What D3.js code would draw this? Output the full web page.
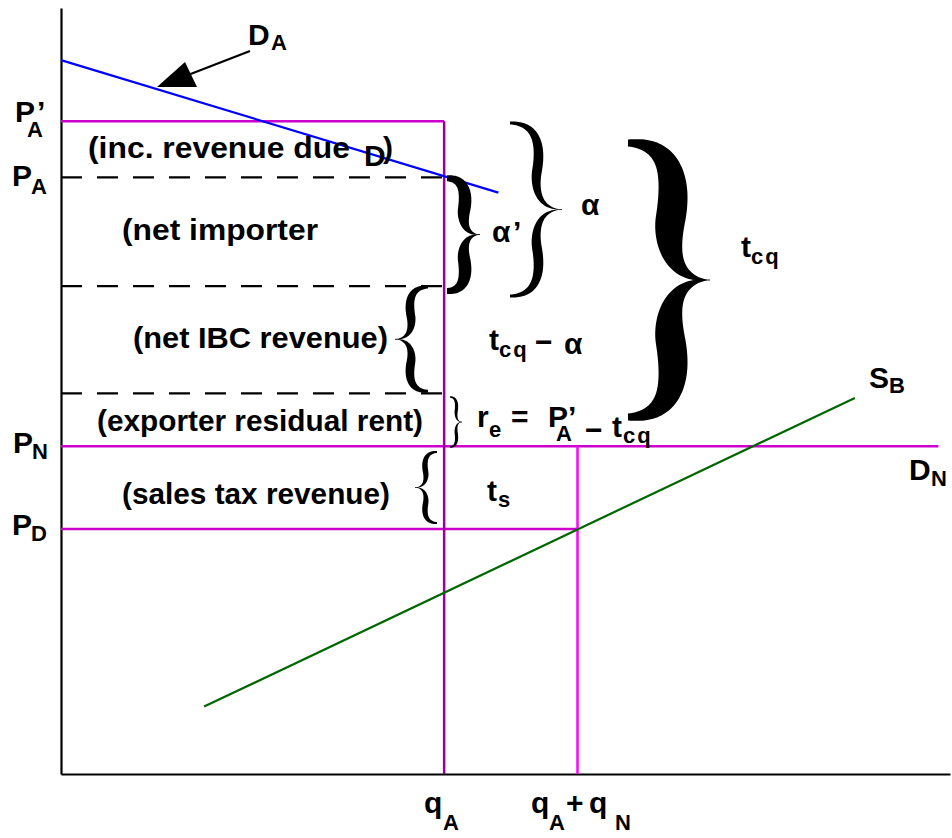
<!DOCTYPE html>
<html>
<head>
<meta charset="utf-8">
<script src="https://cdn.jsdelivr.net/npm/d3@7"></script>
<style>
  html, body { margin: 0; padding: 0; background: #fff; }
  svg text { font-family: "Liberation Sans", Arial, sans-serif; font-weight: bold; fill: #000; }
</style>
</head>
<body>
<svg id="chart" width="952" height="838"></svg>
<script>
// ---------------- data (abstract price / quantity units) ----------------
const priceLevelNames = ["PA'", "PA", "netImporterBottom", "ibcBottom", "PN", "PD"];
const priceLevels     = [85.2, 77.9, 63.7, 49.7, 42.8, 32.0];
const quantityNames   = ["qA", "qA+qN"];
const quantityLevels  = [43.1, 58.1];
const dashedEnds      = [43.1, 43.5, 43.8];       // right ends of the three dashed price lines
const demandA_q       = [0, 49.2];
const demandA_p       = [93.2, 75.9];
const supplyB_q       = [16.1, 89.3];
const supplyB_p       = [8.8, 49.1];
const demandN_end     = 98.7;
const axisMax         = 100;

// ---------------- scales ----------------
const svg = d3.select("#chart");
const x = d3.scaleLinear().domain([0, axisMax]).range([61, 950]);
const y = d3.scaleLinear().domain([0, axisMax]).range([774, 8]);

const P = name => priceLevels[priceLevelNames.indexOf(name)];
const Q = name => quantityLevels[quantityNames.indexOf(name)];

// axes (domain lines only)
svg.append("g").attr("transform", `translate(0,${y(0)})`)
  .call(d3.axisBottom(x).tickValues([]).tickSizeOuter(0))
  .select(".domain").attr("stroke", "#000").attr("stroke-width", 2.2);
svg.append("g").attr("transform", `translate(${x(0)},0)`)
  .call(d3.axisLeft(y).tickValues([]).tickSizeOuter(0))
  .select(".domain").attr("stroke", "#000").attr("stroke-width", 2.2);

const line = d3.line().x(d => x(d[0])).y(d => y(d[1]));

// dashed price lines
["PA", "netImporterBottom", "ibcBottom"].forEach((n, i) => {
  svg.append("path").attr("d", line([[0, P(n)], [dashedEnds[i], P(n)]]))
    .attr("stroke", "#000").attr("stroke-width", 2.2).attr("stroke-dasharray", "21,15").attr("fill", "none");
});

// magenta lines
svg.append("path").attr("d", line([[0, P("PA'")], [Q("qA"), P("PA'")]]))
  .attr("stroke", "#cc00cc").attr("stroke-width", 2.5).attr("fill", "none");
svg.append("path").attr("d", line([[0, P("PN")], [demandN_end, P("PN")]]))
  .attr("stroke", "#cc00cc").attr("stroke-width", 2.5).attr("fill", "none");
svg.append("path").attr("d", line([[0, P("PD")], [Q("qA+qN"), P("PD")]]))
  .attr("stroke", "#cc00cc").attr("stroke-width", 2.5).attr("fill", "none");
svg.append("path").attr("d", line([[Q("qA"), P("PA'")], [Q("qA"), 0]]))
  .attr("stroke", "#990099").attr("stroke-width", 2.5).attr("fill", "none");
svg.append("path").attr("d", line([[Q("qA+qN"), P("PN")], [Q("qA+qN"), 0]]))
  .attr("stroke", "#ff00ff").attr("stroke-width", 2.5).attr("fill", "none");

// demand D_A (blue) and supply S_B (green)
svg.append("path").attr("d", line(demandA_q.map((q, i) => [q, demandA_p[i]])))
  .attr("stroke", "#0000ff").attr("stroke-width", 2.2).attr("fill", "none");
svg.append("path").attr("d", line(supplyB_q.map((q, i) => [q, supplyB_p[i]])))
  .attr("stroke", "#006600").attr("stroke-width", 2.2).attr("fill", "none");

// arrow pointing at D_A
svg.append("line").attr("x1", 250).attr("y1", 51).attr("x2", 188).attr("y2", 75)
  .attr("stroke", "#000").attr("stroke-width", 2.2);
svg.append("path").attr("d", "M157,87 L185,62 L197,87 Z").attr("fill", "#000");

// ---------------- braces ----------------
function bez(p, t) {
  const m = 1 - t;
  return [
    m*m*m*p[0][0] + 3*m*m*t*p[1][0] + 3*m*t*t*p[2][0] + t*t*t*p[3][0],
    m*m*m*p[0][1] + 3*m*m*t*p[1][1] + 3*m*t*t*p[2][1] + t*t*t*p[3][1]
  ];
}
function brace(xEnd, y0, y1, w, tMax, tEnd, dir) {
  const H = (y1 - y0) / 2;
  const segs = [
    [[0, 0], [0.45*w, 0.0], [0.62*w, 0.2*H], [0.52*w, 0.55*H]],
    [[0.52*w, 0.55*H], [0.47*w, 0.72*H], [0.52*w, H], [w, H]]
  ];
  const pts = [];
  const N = 40;
  segs.forEach((sg, i) => {
    for (let k = (i === 0 ? 0 : 1); k <= N; k++) {
      const t = k / N;
      const p = bez(sg, t);
      pts.push({u: p[0], v: p[1], s: (i + t) / 2});
    }
  });
  const th = s => Math.max(0.6, tEnd * (1 - s) * (1 - s) + tMax * Math.pow(Math.sin(Math.PI * Math.min(s * 1.0, 1)), 1.2));
  [1, -1].forEach(half => {
    const L = [], R = [];
    pts.forEach((p, i) => {
      const a = pts[Math.max(0, i - 1)], b = pts[Math.min(pts.length - 1, i + 1)];
      let tx = b.u - a.u, ty = b.v - a.v;
      const len = Math.hypot(tx, ty) || 1; tx /= len; ty /= len;
      const nx = -ty, ny = tx, t2 = th(p.s) / 2;
      const toXY = (u, v) => [xEnd + dir * u, half === 1 ? y0 + v : y1 - v];
      L.push(toXY(p.u + nx * t2, p.v + ny * t2));
      R.push(toXY(p.u - nx * t2, p.v - ny * t2));
    });
    const poly = L.concat(R.reverse());
    svg.append("path").attr("d", "M" + poly.map(q => q[0].toFixed(2) + "," + q[1].toFixed(2)).join("L") + "Z")
      .attr("fill", "#000");
  });
}
brace(447, y(P("PA")) + 1, y(P("netImporterBottom")) + 5, 33, 11, 6, 1);   // alpha'
brace(510, 123, 296, 52, 9, 3, 1);                                          // alpha
brace(628, 143, 417, 82, 28, 7, 1);                                         // t_cq
brace(428, y(P("netImporterBottom")) + 1, y(P("ibcBottom")) - 2, 33, 8, 3, -1); // IBC
brace(450, 397, 447, 12, 2.8, 1.5, 1);                                      // r_e
brace(437, 452, 523, 22, 5, 2, -1);                                         // sales tax

// ---------------- text ----------------
function label(parts) {
  const t = svg.append("text");
  parts.forEach(p => {
    t.append("tspan").attr("x", p.x).attr("y", p.y).style("font-size", (p.s || 30) + "px")
      .style("letter-spacing", p.ls ? p.ls + "px" : null).text(p.t);
  });
  return t;
}
// area descriptions
svg.append("text").attr("x", 88).attr("y", 158).style("font-size", "30px")
  .attr("textLength", 262).attr("lengthAdjust", "spacingAndGlyphs").text("(inc. revenue due");
label([{t: "D", x: 364, y: 166}, {t: ")", x: 383, y: 158}]);
svg.append("text").attr("x", 122).attr("y", 240).style("font-size", "30px")
  .attr("textLength", 196).attr("lengthAdjust", "spacingAndGlyphs").text("(net importer");
svg.append("text").attr("x", 133).attr("y", 348).style("font-size", "30px")
  .attr("textLength", 255).attr("lengthAdjust", "spacingAndGlyphs").text("(net IBC revenue)");
svg.append("text").attr("x", 97).attr("y", 431).style("font-size", "30px")
  .attr("textLength", 326).attr("lengthAdjust", "spacingAndGlyphs").text("(exporter residual rent)");
svg.append("text").attr("x", 122).attr("y", 504).style("font-size", "30px")
  .attr("textLength", 268).attr("lengthAdjust", "spacingAndGlyphs").text("(sales tax revenue)");

// price axis labels
label([{t: "P", x: 15, y: 122}, {t: "’", x: 37, y: 122}, {t: "A", x: 27, y: 137, s: 22}]);
label([{t: "P", x: 12, y: 186}, {t: "A", x: 31, y: 194, s: 22}]);
label([{t: "P", x: 13, y: 453}, {t: "N", x: 32, y: 459, s: 22}]);
label([{t: "P", x: 12, y: 535}, {t: "D", x: 31, y: 541, s: 22}]);

// quantity axis labels
label([{t: "q", x: 424, y: 813}, {t: "A", x: 443, y: 830, s: 22}]);
label([{t: "q", x: 531, y: 813}, {t: "A", x: 549, y: 830, s: 22}, {t: "+", x: 566, y: 813},
       {t: "q", x: 589, y: 813}, {t: "N", x: 615, y: 830, s: 22}]);

// curve labels
label([{t: "D", x: 248, y: 45}, {t: "A", x: 271, y: 50, s: 22}]);
label([{t: "S", x: 869, y: 388}, {t: "B", x: 889, y: 393, s: 22}]);
label([{t: "D", x: 909, y: 480}, {t: "N", x: 931, y: 486, s: 22}]);

// brace labels
label([{t: "α", x: 492, y: 242}, {t: "’", x: 513, y: 242}]);
label([{t: "α", x: 581, y: 215}]);
label([{t: "t", x: 741, y: 257}, {t: "cq", x: 751, y: 264, s: 22, ls: 2}]);
label([{t: "t", x: 489, y: 350}, {t: "cq", x: 499, y: 357, s: 22, ls: 2}, {t: "−", x: 535, y: 352}, {t: "α", x: 564, y: 354}]);
label([{t: "r", x: 477, y: 427}, {t: "e", x: 489, y: 437, s: 22}, {t: "=", x: 511, y: 427},
       {t: "P", x: 548, y: 427}, {t: "’", x: 568, y: 427}, {t: "A", x: 556, y: 441, s: 22},
       {t: "−", x: 585, y: 440}, {t: "t", x: 612, y: 437}, {t: "cq", x: 623, y: 443, s: 22, ls: 2}]);
label([{t: "t", x: 487, y: 501}, {t: "s", x: 498, y: 507, s: 22}]);
</script>
</body>
</html>
